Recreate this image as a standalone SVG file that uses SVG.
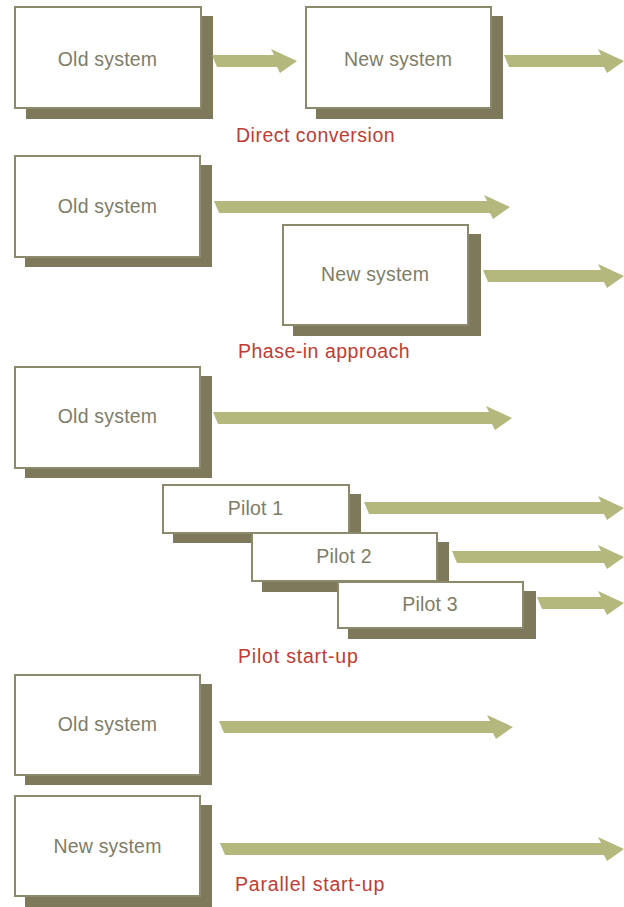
<svg xmlns="http://www.w3.org/2000/svg" width="624" height="907" viewBox="0 0 624 907">
<style>
.sh{fill:#7d795a}
.bx{fill:#ffffff;stroke:#8b8a6c;stroke-width:2}
.t{font-family:"Liberation Sans",Arial,sans-serif;font-size:19.5px;fill:#7e7d66;text-anchor:middle;letter-spacing:0.2px}
.lb{font-family:"Liberation Sans",Arial,sans-serif;font-size:19.5px;fill:#c13b33;letter-spacing:0.5px}
.ar{fill:#b4b87d}
</style>
<rect width="624" height="907" fill="#ffffff"/>
<g id="old1"><rect class="sh" x="26" y="16" width="187" height="103"/><rect class="bx" x="15" y="7" width="186" height="101"/><text class="t" x="107.5" y="66">Old system</text></g>
<g id="new1"><rect class="sh" x="316" y="16" width="187" height="103"/><rect class="bx" x="306" y="7" width="185" height="101"/><text class="t" x="398" y="66">New system</text></g>
<g id="old2"><rect class="sh" x="25" y="165" width="187" height="102"/><rect class="bx" x="15" y="156" width="185" height="101"/><text class="t" x="107.5" y="213">Old system</text></g>
<g id="new2"><rect class="sh" x="293" y="234" width="188" height="102"/><rect class="bx" x="283" y="225" width="185" height="100"/><text class="t" x="375" y="281">New system</text></g>
<g id="old3"><rect class="sh" x="25" y="376" width="187" height="102"/><rect class="bx" x="15" y="367" width="185" height="101"/><text class="t" x="107.5" y="423">Old system</text></g>
<g id="pilot1"><rect class="sh" x="173" y="494" width="188" height="49"/><rect class="bx" x="163" y="485" width="186" height="48"/><text class="t" x="255.5" y="515">Pilot 1</text></g>
<g id="pilot2"><rect class="sh" x="262" y="542" width="187" height="50"/><rect class="bx" x="252" y="533" width="185" height="48"/><text class="t" x="344" y="563">Pilot 2</text></g>
<g id="pilot3"><rect class="sh" x="348" y="591" width="188" height="48"/><rect class="bx" x="338" y="582" width="185" height="46"/><text class="t" x="430" y="611">Pilot 3</text></g>
<g id="old4"><rect class="sh" x="25" y="684" width="187" height="101"/><rect class="bx" x="15" y="675" width="185" height="100"/><text class="t" x="107.5" y="731">Old system</text></g>
<g id="new4"><rect class="sh" x="25" y="805" width="187" height="102"/><rect class="bx" x="15" y="796" width="185" height="100"/><text class="t" x="107.5" y="853">New system</text></g>
<g id="labels">
<text class="lb" x="236" y="142">Direct conversion</text>
<text class="lb" x="238" y="358">Phase-in approach</text>
<text class="lb" x="238" y="663" style="letter-spacing:0.8px">Pilot start-up</text>
<text class="lb" x="235" y="891" style="letter-spacing:0.8px">Parallel start-up</text>
</g>
<g id="connectors">
<polygon class="ar" points="212,55 274,55 271,49 297,61 280,73 277,67 217,67"/>
<polygon class="ar" points="504,55 601,55 598,49 624,61 607,73 604,67 509,67"/>
<polygon class="ar" points="214,201 487,201 484,195 510,207 493,219 490,213 219,213"/>
<polygon class="ar" points="483,270 601,270 598,264 624,276 607,288 604,282 488,282"/>
<polygon class="ar" points="213,412 489,412 486,406 512,418 495,430 492,424 218,424"/>
<polygon class="ar" points="364,502 601,502 598,496 624,508 607,520 604,514 369,514"/>
<polygon class="ar" points="452,551 601,551 598,545 624,557 607,569 604,563 457,563"/>
<polygon class="ar" points="537,597 601,597 598,591 624,603 607,615 604,609 542,609"/>
<polygon class="ar" points="219,721 490,721 487,715 513,727 496,739 493,733 224,733"/>
<polygon class="ar" points="220,843 601,843 598,837 624,849 607,861 604,855 225,855"/>
</g>
</svg>
